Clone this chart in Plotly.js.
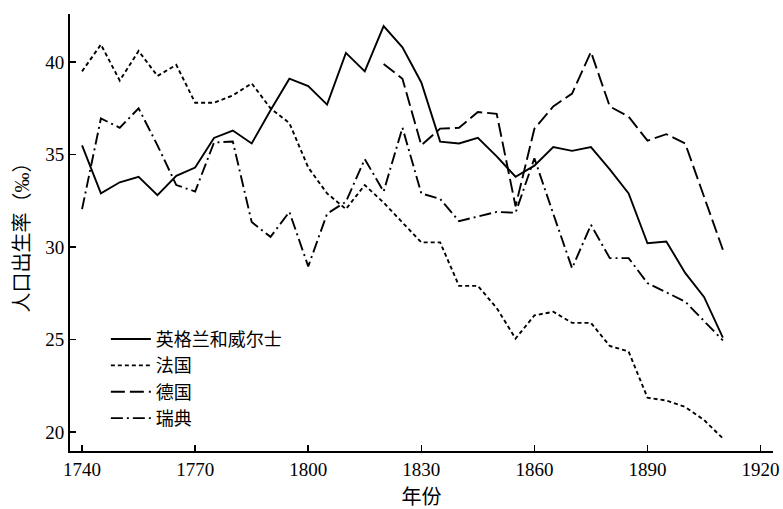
<!DOCTYPE html>
<html>
<head>
<meta charset="utf-8">
<script src="https://cdn.plot.ly/plotly-3.0.1.min.js"></script>
<style>html,body{margin:0;padding:0;background:#fff;}#chart{width:783px;height:509px;}</style>
</head>
<body>
<div id="chart"></div>
<script>
const years = [1740,1745,1750,1755,1760,1765,1770,1775,1780,1785,1790,1795,1800,1805,1810,1815,1820,1825,1830,1835,1840,1845,1850,1855,1860,1865,1870,1875,1880,1885,1890,1895,1900,1905,1910];
const englandWales = [35.5,32.9,33.5,33.8,32.8,33.85,34.3,35.9,36.3,35.6,37.4,39.1,38.7,37.7,40.5,39.5,41.95,40.8,38.9,35.7,35.6,35.9,34.9,33.8,34.4,35.4,35.2,35.4,34.2,32.9,30.2,30.3,28.6,27.3,25.1];
const france = [39.5,40.95,39.0,40.6,39.25,39.85,37.8,37.8,38.2,38.85,37.5,36.7,34.3,32.9,32.05,33.35,32.4,31.35,30.25,30.25,27.9,27.9,26.7,25.05,26.3,26.5,25.9,25.9,24.65,24.35,21.85,21.7,21.35,20.65,19.65];
const germanyYears = [1820,1825,1830,1835,1840,1845,1850,1855,1860,1865,1870,1875,1880,1885,1890,1895,1900,1905,1910];
const germany = [39.9,39.1,35.5,36.4,36.45,37.3,37.2,32.2,36.4,37.6,38.3,40.55,37.6,37.05,35.75,36.1,35.6,32.7,29.85];
const sweden = [32.05,36.95,36.45,37.5,35.5,33.35,33.0,35.65,35.7,31.35,30.55,31.9,28.95,31.8,32.45,34.75,33.0,36.45,32.9,32.6,31.4,31.65,31.9,31.85,34.8,31.8,28.85,31.2,29.4,29.4,28.05,27.55,27.05,26.0,24.95];
const seriesNames = ['英格兰和威尔士','法国','德国','瑞典'];
const xTicks = [1740,1770,1800,1830,1860,1890,1920];
const yTicks = [20,25,30,35,40];

const fontFam = '"Liberation Serif", "Times New Roman", "Noto Sans CJK SC", serif';
const lw = 1.9;
const traces = [
  {x: years, y: englandWales, name: seriesNames[0], mode:'lines', line:{color:'#000', width:lw, dash:'solid'}},
  {x: years, y: france, name: seriesNames[1], mode:'lines', line:{color:'#000', width:lw, dash:'4px,3px'}},
  {x: germanyYears, y: germany, name: seriesNames[2], mode:'lines', line:{color:'#000', width:lw, dash:'14px,5px'}},
  {x: years, y: sweden, name: seriesNames[3], mode:'lines', line:{color:'#000', width:lw, dash:'12px,4px,2px,4px'}}
];
const layout = {
  width: 783, height: 509,
  margin: {l:70, r:10, t:14, b:58},
  paper_bgcolor:'#fff', plot_bgcolor:'#fff',
  font: {family: fontFam, size: 19, color:'#000'},
  showlegend: true,
  legend: {x: 0.051, y: 0.298, xanchor:'left', yanchor:'top', bgcolor:'rgba(0,0,0,0)', font:{size:18, family: fontFam}, itemwidth: 40, tracegroupgap: 0},
  xaxis: {
    range: [1736.8, 1923.3], tickvals: xTicks, ticktext: xTicks.map(String),
    ticks:'inside', ticklen:6, tickwidth:1.5, tickcolor:'#000',
    showline:true, linecolor:'#000', linewidth:2, showgrid:false, zeroline:false,
    tickfont:{size:19, family: fontFam},
    title:{text:'年份', font:{size:20, family: fontFam}, standoff: 11}
  },
  yaxis: {
    range: [18.97, 42.6], tickvals: yTicks, ticktext: yTicks.map(String),
    ticks:'inside', ticklen:6, tickwidth:1.5, tickcolor:'#000',
    showline:true, linecolor:'#000', linewidth:2, showgrid:false, zeroline:false,
    tickfont:{size:19, family: fontFam},
    title:{text:'人口出生率（‰）', font:{size:20, family: fontFam}, standoff: 10}
  }
};
Plotly.newPlot('chart', traces, layout, {displayModeBar:false, staticPlot:true});
</script>
</body>
</html>
